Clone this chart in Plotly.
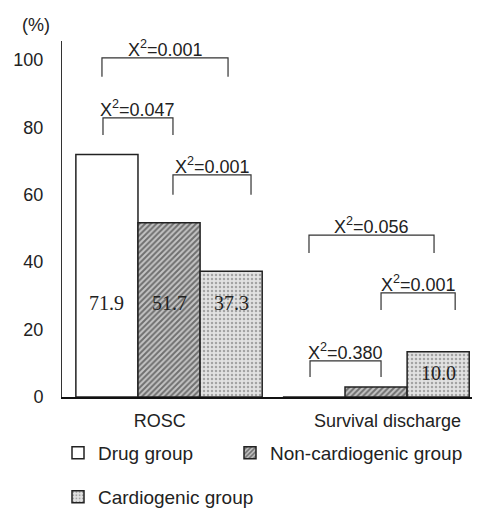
import plotly.graph_objects as go

categories = ["ROSC", "Survival discharge"]
drug_group = [71.9, 0.0]
non_cardiogenic = [51.7, 3.0]
cardiogenic = [37.3, 13.4]
value_labels = [["71.9", ""], ["51.7", ""], ["37.3", "10.0"]]
series_names = ["Drug group", "Non-cardiogenic group", "Cardiogenic group"]
chi_labels = ["0.001", "0.047", "0.001", "0.056", "0.001", "0.380"]

x = list(range(len(categories)))
FONT = "Liberation Sans"
SERIF = "Liberation Serif"

# page body has an 8px margin; reference pixel coords are converted accordingly
OFF = 8
W, H = 480 - OFF, 508 - OFF
PL, PR, PT, PB = 62 - OFF, 480 - OFF, 41 - OFF, 397 - OFF
def px_x(p):
    return (p - OFF - PL) / (PR - PL)
def px_y(p):
    return (PB - (p - OFF)) / (PB - PT)

fig = go.Figure()
styles = [
    None,
    dict(shape="/", size=4, solidity=0.5, fgcolor="#1a1a1a", bgcolor="#c4c4c4"),
    dict(shape=".", size=4, solidity=0.3, fgcolor="#666666", bgcolor="#e2e2e2"),
]
legends = ["legend", "legend2", "legend3"]
for name, vals, pat, leg in zip(series_names, [drug_group, non_cardiogenic, cardiogenic], styles, legends):
    marker = dict(color="white", line=dict(color="#222222", width=1.5))
    if pat:
        marker["pattern"] = pat
    fig.add_trace(go.Bar(x=x, y=vals, name=name, marker=marker, legend=leg, showlegend=True))

# value labels inside bars
bar_w = 0.3
label_y = [[28, 0], [28, 0], [28, 7.1]]
for i, labs in enumerate(value_labels):
    for j, t in enumerate(labs):
        if t:
            fig.add_annotation(x=x[j] + (i - 1) * bar_w, y=label_y[i][j], text=t, showarrow=False,
                               font=dict(family=SERIF, size=20, color="#222222"))

# significance brackets: (x0, x1, top, bottom)
brackets = [
    (-0.324, 0.285, 100.6, 95.0),
    (-0.319, 0.019, 82.8, 77.7),
    (0.019, 0.396, 65.9, 60.0),
    (0.676, 1.280, 48.0, 42.7),
    (1.024, 1.382, 30.9, 25.8),
    (0.681, 1.024, 10.7, 5.9),
]
for (x0, x1, top, bot), lab in zip(brackets, chi_labels):
    fig.add_shape(type="path", path=f"M {x0},{bot} L {x0},{top} L {x1},{top} L {x1},{bot}",
                  line=dict(color="#333333", width=1.2), xref="x", yref="y")
    fig.add_annotation(x=(x0 + x1) / 2, y=top, text="X<sup>2</sup>=" + lab, showarrow=False,
                       yanchor="bottom", yshift=-4, font=dict(family=FONT, size=18, color="#222222"))

fig.add_annotation(x=px_x(36), y=px_y(25), xref="paper", yref="paper", text="(%)", showarrow=False,
                   xanchor="center", yanchor="middle", font=dict(family=FONT, size=18, color="#222222"))

leg_common = dict(orientation="h", xanchor="left", yanchor="top", font=dict(family=FONT, size=19),
                  bgcolor="rgba(0,0,0,0)")
fig.update_layout(
    width=W, height=H,
    margin=dict(l=PL, r=W - PR, t=PT, b=H - PB, autoexpand=False),
    paper_bgcolor="white", plot_bgcolor="white",
    showlegend=True,
    barmode="group", bargap=0.1, bargroupgap=0,
    font=dict(family=FONT, size=18, color="#222222"),
    xaxis=dict(range=[-0.517, 1.502], tickvals=[x[0] - 0.045, x[1] + 0.055], ticktext=categories,
               showline=True, linecolor="#111111", linewidth=2, ticks="outside", ticklen=6,
               tickcolor="rgba(0,0,0,0)", showgrid=False, zeroline=False,
               tickfont=dict(family=FONT, size=18)),
    yaxis=dict(range=[0, 105.6], tickvals=[0, 20, 40, 60, 80, 100], showline=True, linecolor="#333333",
               linewidth=1, ticks="outside", ticklen=14, tickcolor="rgba(0,0,0,0)", showgrid=False,
               zeroline=False, tickfont=dict(family=FONT, size=18)),
    legend=dict(x=px_x(58), y=px_y(434), **leg_common),
    legend2=dict(x=px_x(230), y=px_y(434), **leg_common),
    legend3=dict(x=px_x(58), y=px_y(478), **leg_common),
)

fig.write_html("out.html")
